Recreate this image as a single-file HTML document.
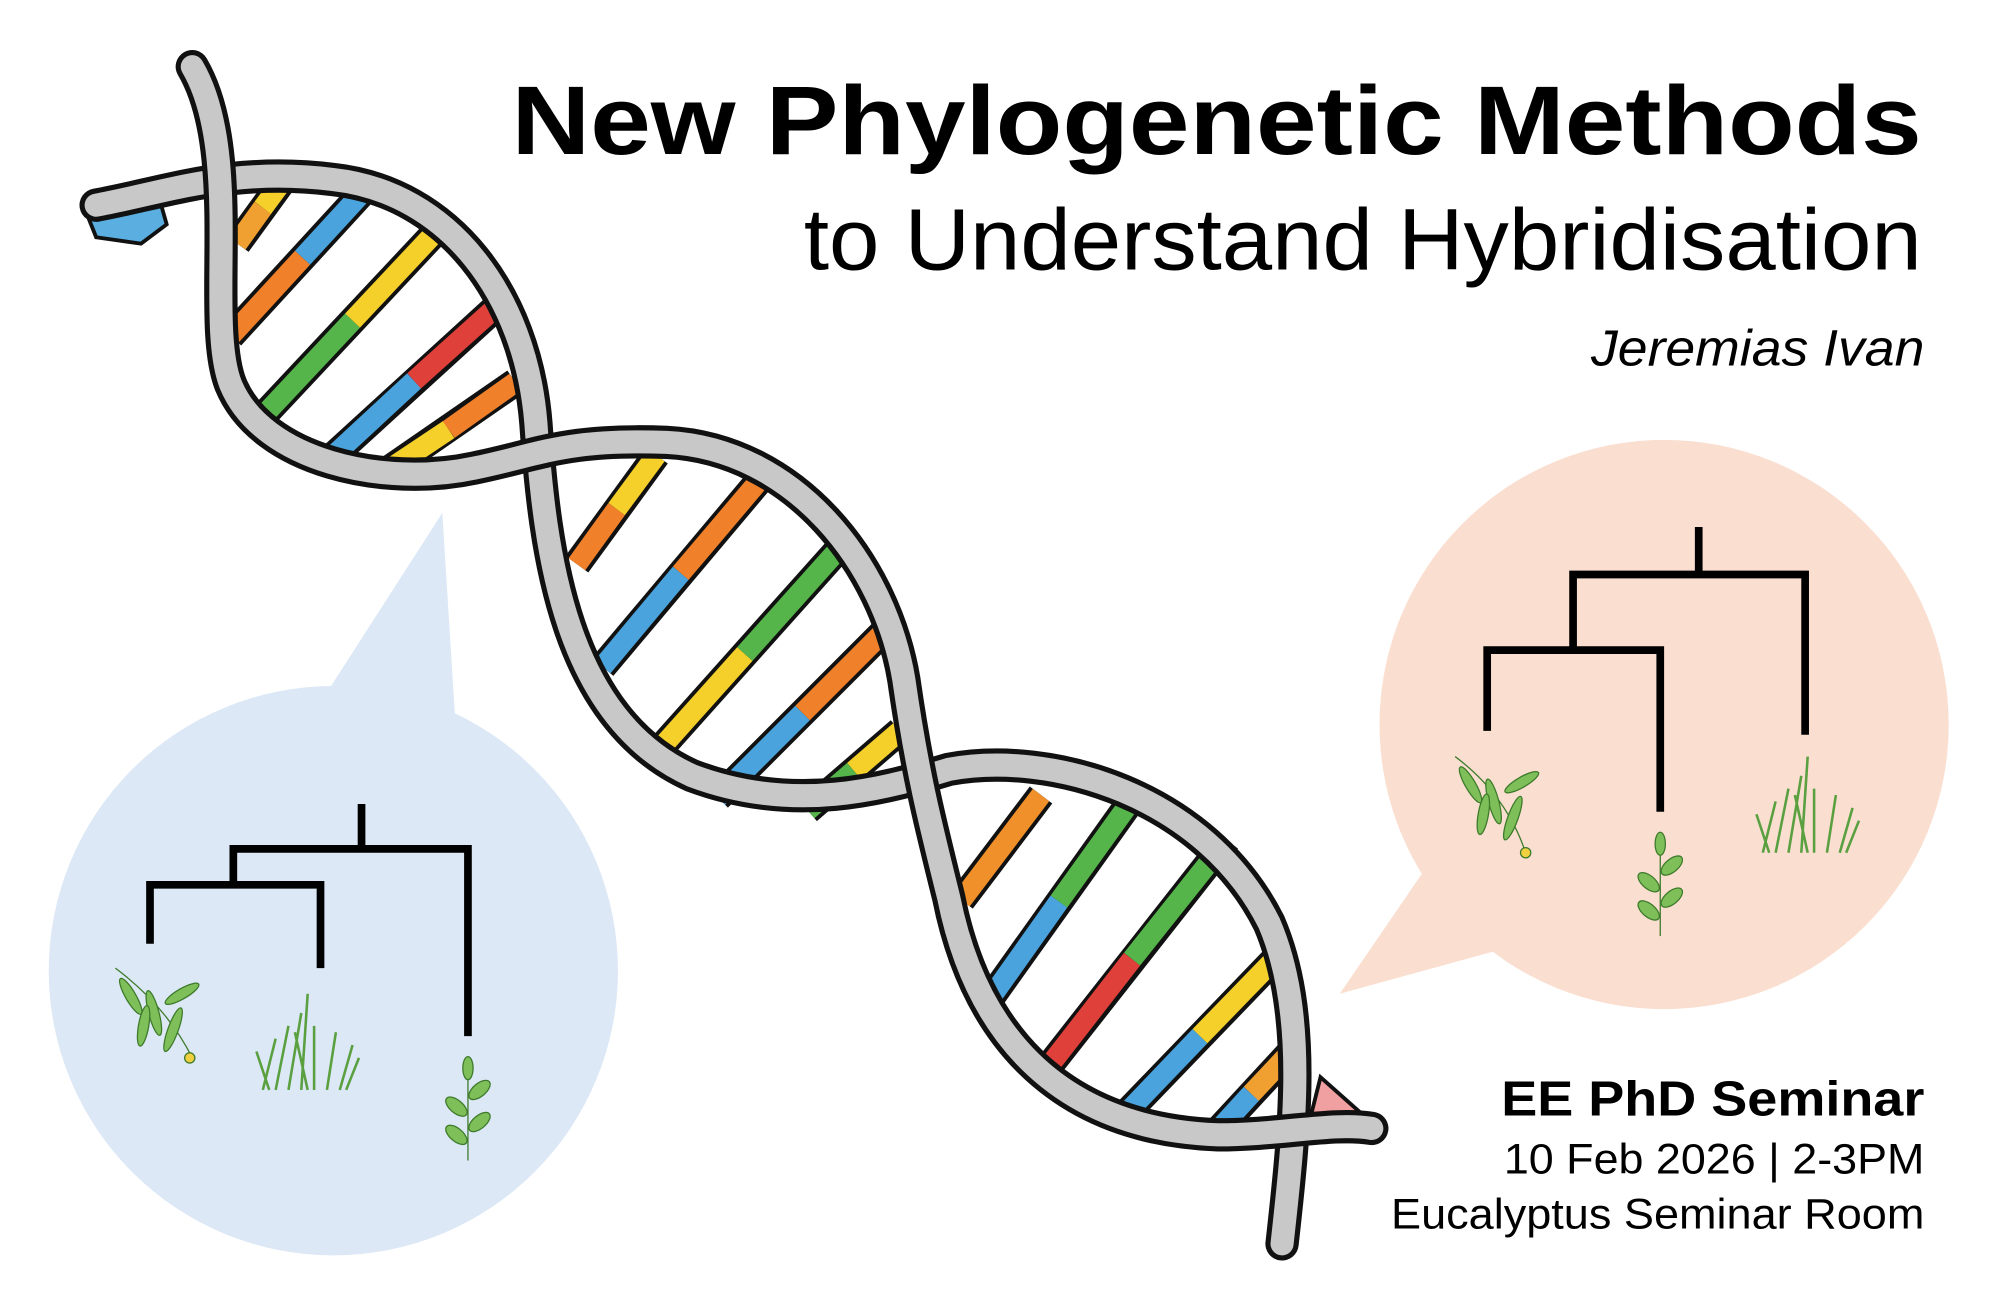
<!DOCTYPE html>
<html><head><meta charset="utf-8"><style>
html,body{margin:0;padding:0;background:#fff}
svg{display:block}
</style></head><body>
<svg width="2000" height="1290" viewBox="0 0 1560 1006" preserveAspectRatio="none" xmlns="http://www.w3.org/2000/svg">
<rect width="1560" height="1006" fill="#fff"/>
<g fill="#dce8f6">
<circle cx="260" cy="757" r="222"/>
<polygon points="345,400 255,540 355,560"/>
</g>
<g fill="#fadfd1">
<circle cx="1298" cy="565" r="222"/>
<polygon points="1045,775 1110,680 1165,742"/>
</g>
<g stroke="#000" stroke-width="6" fill="none" stroke-linecap="square">
<path d="M282,630 V662 M182,662 H365 V805 M182,662 V690 M117,690 H250 V752 M117,690 V733"/>
<path d="M1325,414 V448 M1227,448 H1408 V570 M1227,448 V507 M1160,507 H1295 V630 M1160,507 V567"/>
</g>
<g fill="#7fbf5a" stroke="#3d7a2a" stroke-width="1">
<g transform="translate(120,785)">
<path d="M-30,-30 Q10,0 30,40" fill="none"/>
<ellipse cx="-18" cy="-8" rx="4" ry="16" transform="rotate(-30 -18 -8)"/>
<ellipse cx="0" cy="5" rx="4" ry="18" transform="rotate(-15 0 5)"/>
<ellipse cx="15" cy="18" rx="4" ry="18" transform="rotate(20 15 18)"/>
<ellipse cx="-8" cy="15" rx="4" ry="16" transform="rotate(10 -8 15)"/>
<ellipse cx="22" cy="-10" rx="4" ry="15" transform="rotate(60 22 -10)"/>
<circle cx="28" cy="40" r="4" fill="#f0d040"/>
</g>
<g transform="translate(1165,620)">
<path d="M-30,-30 Q10,0 25,45" fill="none"/>
<ellipse cx="-18" cy="-8" rx="4" ry="16" transform="rotate(-30 -18 -8)"/>
<ellipse cx="0" cy="5" rx="4" ry="18" transform="rotate(-15 0 5)"/>
<ellipse cx="15" cy="18" rx="4" ry="18" transform="rotate(20 15 18)"/>
<ellipse cx="-8" cy="15" rx="4" ry="16" transform="rotate(10 -8 15)"/>
<ellipse cx="22" cy="-10" rx="4" ry="15" transform="rotate(60 22 -10)"/>
<circle cx="25" cy="45" r="4" fill="#f0d040"/>
</g>
<g transform="translate(365,865)">
<path d="M0,40 V-35" fill="none"/>
<ellipse cx="-9" cy="20" rx="5" ry="10" transform="rotate(-50 -9 20)"/>
<ellipse cx="9" cy="10" rx="5" ry="10" transform="rotate(50 9 10)"/>
<ellipse cx="-9" cy="-2" rx="5" ry="10" transform="rotate(-50 -9 -2)"/>
<ellipse cx="9" cy="-15" rx="5" ry="10" transform="rotate(50 9 -15)"/>
<ellipse cx="0" cy="-32" rx="4" ry="9"/>
</g>
<g transform="translate(1295,690)">
<path d="M0,40 V-35" fill="none"/>
<ellipse cx="-9" cy="20" rx="5" ry="10" transform="rotate(-50 -9 20)"/>
<ellipse cx="9" cy="10" rx="5" ry="10" transform="rotate(50 9 10)"/>
<ellipse cx="-9" cy="-2" rx="5" ry="10" transform="rotate(-50 -9 -2)"/>
<ellipse cx="9" cy="-15" rx="5" ry="10" transform="rotate(50 9 -15)"/>
<ellipse cx="0" cy="-32" rx="4" ry="9"/>
</g>
</g>
<g stroke="#5aa040" stroke-width="2" fill="none">
<path d="M205,850 L215,810 M215,850 L225,800 M225,850 L235,790 M235,850 L240,775 M245,850 L245,800 M255,850 L262,805 M265,850 L275,815 M210,850 L200,820 M240,850 L230,805 M270,850 L280,825"/>
<path d="M1375,665 L1385,625 M1385,665 L1395,615 M1395,665 L1405,605 M1405,665 L1410,590 M1415,665 L1415,615 M1425,665 L1432,620 M1435,665 L1445,630 M1380,665 L1370,635 M1410,665 L1400,620 M1440,665 L1450,640"/>
</g>
<g stroke="#111" stroke-width="22" stroke-linecap="butt" fill="none">
<path d="M185,190 L225,135 M180,262 L292,140 M200,330 L350,170 M255,360 L392,235 M305,365 L402,298
M450,440 L512,355 M470,520 L592,375 M505,595 L657,425 M560,622 L692,490 M630,632 L702,570
M750,702 L812,620 M770,782 L882,625 M810,842 L957,655 M870,877 L1002,740 M945,887 L1007,820"/>
</g>
<g stroke-width="16" fill="none">
<path d="M185,190 L205,162" stroke="#f0a030"/><path d="M205,162 L225,135" stroke="#f5cf2a"/>
<path d="M180,262 L236,201" stroke="#f0802a"/><path d="M236,201 L292,140" stroke="#4aa3dc"/>
<path d="M200,330 L275,250" stroke="#55b54a"/><path d="M275,250 L350,170" stroke="#f5cf2a"/>
<path d="M255,360 L323,297" stroke="#4aa3dc"/><path d="M323,297 L392,235" stroke="#e0403a"/>
<path d="M305,365 L350,335" stroke="#f5cf2a"/><path d="M350,335 L402,298" stroke="#f0802a"/>
<path d="M450,440 L481,397" stroke="#f0802a"/><path d="M481,397 L512,355" stroke="#f5cf2a"/>
<path d="M470,520 L531,447" stroke="#4aa3dc"/><path d="M531,447 L592,375" stroke="#f0802a"/>
<path d="M505,595 L581,510" stroke="#f5cf2a"/><path d="M581,510 L657,425" stroke="#55b54a"/>
<path d="M560,622 L626,556" stroke="#4aa3dc"/><path d="M626,556 L692,490" stroke="#f0802a"/>
<path d="M630,632 L666,601" stroke="#55b54a"/><path d="M666,601 L702,570" stroke="#f5cf2a"/>
<path d="M750,702 L812,620" stroke="#f0902a"/>
<path d="M770,782 L826,703" stroke="#4aa3dc"/><path d="M826,703 L882,625" stroke="#55b54a"/>
<path d="M810,842 L883,748" stroke="#e0403a"/><path d="M883,748 L957,655" stroke="#55b54a"/>
<path d="M870,877 L936,808" stroke="#4aa3dc"/><path d="M936,808 L1002,740" stroke="#f5cf2a"/>
<path d="M945,887 L976,853" stroke="#4aa3dc"/><path d="M976,853 L1007,820" stroke="#f0a030"/>
</g>
<polygon points="65,160 120,140 130,175 110,190 75,185" fill="#5aaee0" stroke="#111" stroke-width="3"/>
<polygon points="1030,840 1075,880 1050,890 1020,880" fill="#f0a0a0" stroke="#111" stroke-width="3"/>
<g fill="none" stroke-linecap="round">
<path d="M75,160 C130,150 180,130 260,140 C350,150 410,230 418,330 C425,430 440,560 540,605 C620,635 690,615 740,600 C820,585 940,620 990,720 C1020,790 1010,880 1000,970" stroke="#111" stroke-width="26"/>
<path d="M75,160 C130,150 180,130 260,140 C350,150 410,230 418,330 C425,430 440,560 540,605 C620,635 690,615 740,600 C820,585 940,620 990,720 C1020,790 1010,880 1000,970" stroke="#c8c8c8" stroke-width="18"/>
<path d="M150,52 C190,120 160,250 180,300 C205,360 300,380 370,365 C420,355 440,342 520,345 C620,350 690,440 705,530 C715,600 725,640 740,700 C760,800 820,880 950,885 C1000,885 1040,875 1070,880" stroke="#111" stroke-width="26"/>
<path d="M150,52 C190,120 160,250 180,300 C205,360 300,380 370,365 C420,355 440,342 520,345 C620,350 690,440 705,530 C715,600 725,640 740,700 C760,800 820,880 950,885 C1000,885 1040,875 1070,880" stroke="#c8c8c8" stroke-width="18"/>
</g>
<g font-family="'Liberation Sans', sans-serif" fill="#000" text-anchor="end">
<text x="1499" y="120" font-size="76" font-weight="bold" textLength="1100" lengthAdjust="spacingAndGlyphs">New Phylogenetic Methods</text>
<text x="1499" y="210" font-size="68" textLength="872" lengthAdjust="spacingAndGlyphs">to Understand Hybridisation</text>
<text x="1501" y="285" font-size="40" font-style="italic" textLength="260" lengthAdjust="spacingAndGlyphs">Jeremias Ivan</text>
<text x="1501" y="870" font-size="38" font-weight="bold" textLength="330" lengthAdjust="spacingAndGlyphs">EE PhD Seminar</text>
<text x="1501" y="915" font-size="33" textLength="328" lengthAdjust="spacingAndGlyphs">10 Feb 2026 | 2-3PM</text>
<text x="1501" y="958" font-size="33" textLength="416" lengthAdjust="spacingAndGlyphs">Eucalyptus Seminar Room</text>
</g>
</svg>
</body></html>
